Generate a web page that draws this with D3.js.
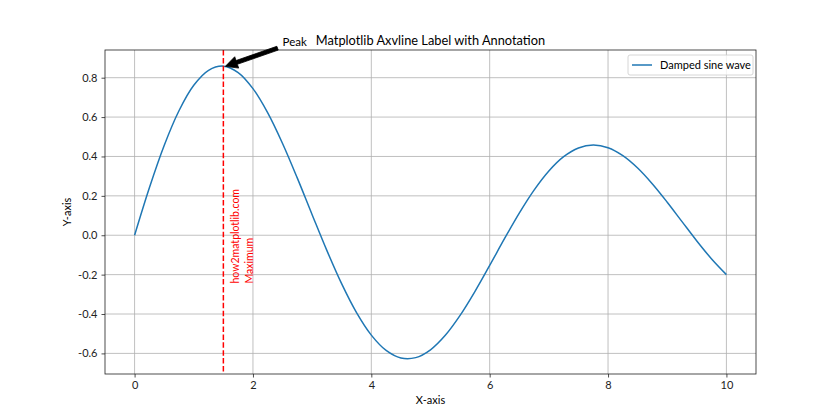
<!DOCTYPE html>
<html><head><meta charset="utf-8">
<script src="https://cdn.jsdelivr.net/npm/d3@7"></script>
<style>body{margin:0;background:#fff;} svg{display:block;} text{font-family:Lato,"Noto Sans",sans-serif;}</style>
</head><body><svg id="c" width="840" height="420"></svg>
<script>
const xValues = [0,0.25,0.5,0.75,1,1.25,1.5,1.75,2,2.25,2.5,2.75,3,3.25,3.5,3.75,4,4.25,4.5,4.75,5,5.25,5.5,5.75,6,6.25,6.5,6.75,7,7.25,7.5,7.75,8,8.25,8.5,8.75,9,9.25,9.5,9.75,10];
const yValues = [0,0.2413,0.4560,0.6323,0.7614,0.8375,0.8585,0.8261,0.7445,0.6213,0.4661,0.2899,0.1045,-0.0782,-0.2472,-0.3929,-0.5073,-0.5851,-0.6233,-0.6215,-0.5816,-0.5081,-0.4070,-0.2860,-0.1533,-0.0178,0.1123,0.2291,0.3263,0.3988,0.4431,0.4582,0.4445,0.4042,0.3413,0.2604,0.1676,0.0691,-0.0291,-0.1205,-0.2001];
const xTicks = [0,2,4,6,8,10];
const yTicks = [-0.6,-0.4,-0.2,0.0,0.2,0.4,0.6,0.8];
const vlineX = 1.5;
const peak = {x: 1.5, y: 0.86, tx: 2.5, ty: 0.96, label: "Peak"};
const vText = {x: 1.5, y: -0.245, lines: ["how2matplotlib.com", "Maximum"]};
const seriesName = "Damped sine wave";
const title = "Matplotlib Axvline Label with Annotation";

const svg = d3.select("#c");
const L = 105, R = 756, T = 50, B = 374;
const x = d3.scaleLinear().domain([-0.5, 10.5]).range([L, R]);
const y = d3.scaleLinear().domain([-0.7046, 0.9406]).range([B, T]);

// grid
const g = svg.append("g");
g.selectAll(".gx").data(xTicks).enter().append("line")
  .attr("x1", d => x(d)).attr("x2", d => x(d)).attr("y1", T).attr("y2", B)
  .attr("stroke", "#b0b0b0").attr("stroke-width", 0.8);
g.selectAll(".gy").data(yTicks).enter().append("line")
  .attr("y1", d => y(d)).attr("y2", d => y(d)).attr("x1", L).attr("x2", R)
  .attr("stroke", "#b0b0b0").attr("stroke-width", 0.8);

// axes
const fmt = d => (d < 0 ? "-" : "") + Math.abs(d).toFixed(1);
const xa = svg.append("g").attr("transform", `translate(0,${B})`)
  .call(d3.axisBottom(x).tickValues(xTicks).tickSize(3.5).tickPadding(4).tickFormat(d3.format("d")));
const ya = svg.append("g").attr("transform", `translate(${L},0)`)
  .call(d3.axisLeft(y).tickValues(yTicks).tickSize(3.5).tickPadding(4).tickFormat(fmt));
[xa, ya].forEach(a => {
  a.select(".domain").remove();
  a.selectAll("text").attr("font-family", "Lato, sans-serif").attr("font-size", 11).attr("fill", "#222");
  a.selectAll("line").attr("stroke", "#222").attr("stroke-width", 0.8);
});

// line
const line = d3.line().x((d, i) => x(xValues[i])).y(d => y(d)).curve(d3.curveCatmullRom);
svg.append("path").datum(yValues).attr("d", line).attr("fill", "none")
  .attr("stroke", "#1f77b4").attr("stroke-width", 1.5);

// axvline
svg.append("line").attr("x1", x(vlineX)).attr("x2", x(vlineX)).attr("y1", T).attr("y2", B)
  .attr("stroke", "red").attr("stroke-width", 1.5).attr("stroke-dasharray", "5.5,2.4");

// rotated text
const vt = svg.append("text").attr("transform", `translate(${x(vText.x)+16},${y(vText.y)}) rotate(-90)`)
  .attr("fill", "red").attr("font-size", 10.5);
vText.lines.forEach((s, i) => vt.append("tspan").attr("x", 0).attr("dy", i === 0 ? 0 : 14).text(s));

// spines
svg.append("rect").attr("x", L).attr("y", T).attr("width", R - L).attr("height", B - T)
  .attr("fill", "none").attr("stroke", "#222").attr("stroke-width", 0.8);

// annotation arrow
{
  const x0 = x(peak.tx) - 5, y0 = y(peak.ty) + 2;
  const x1 = x(peak.x) + 2, y1 = y(peak.y) + 0.5;
  const dx = x1 - x0, dy = y1 - y0, len = Math.hypot(dx, dy);
  const ux = dx / len, uy = dy / len, px = -uy, py = ux;
  const hw = 2, hh = 6, hl = 12;
  const bx = x1 - ux * hl, by = y1 - uy * hl;
  const pts = [
    [x0 + px * hw, y0 + py * hw], [bx + px * hw, by + py * hw], [bx + px * hh, by + py * hh],
    [x1, y1], [bx - px * hh, by - py * hh], [bx - px * hw, by - py * hw], [x0 - px * hw, y0 - py * hw]
  ];
  svg.append("polygon").attr("points", pts.map(p => p.join(",")).join(" ")).attr("fill", "#000").attr("stroke", "#000").attr("stroke-width", 0.8);
}
svg.append("text").attr("x", x(peak.tx)).attr("y", y(peak.ty)).attr("font-size", 11.5).attr("fill", "#000").text(peak.label);

// title
svg.append("text").attr("x", (L + R) / 2).attr("y", 45).attr("text-anchor", "middle")
  .attr("font-size", 12.8).attr("fill", "#000").text(title);
// axis labels
svg.append("text").attr("x", (L + R) / 2).attr("y", 404).attr("text-anchor", "middle")
  .attr("font-size", 11).attr("fill", "#000").text("X-axis");
svg.append("text").attr("transform", `translate(71,${(T + B) / 2}) rotate(-90)`).attr("text-anchor", "middle")
  .attr("font-size", 11).attr("fill", "#000").text("Y-axis");

// legend
const lg = svg.append("g");
lg.append("rect").attr("x", 628).attr("y", 55).attr("width", 125).attr("height", 20).attr("rx", 2)
  .attr("fill", "#fff").attr("fill-opacity", 0.8).attr("stroke", "#ccc").attr("stroke-width", 0.8);
lg.append("line").attr("x1", 632).attr("x2", 652).attr("y1", 65).attr("y2", 65).attr("stroke", "#1f77b4").attr("stroke-width", 1.5);
lg.append("text").attr("x", 660).attr("y", 69).attr("font-size", 11).attr("fill", "#000").text(seriesName);
</script></body></html>
